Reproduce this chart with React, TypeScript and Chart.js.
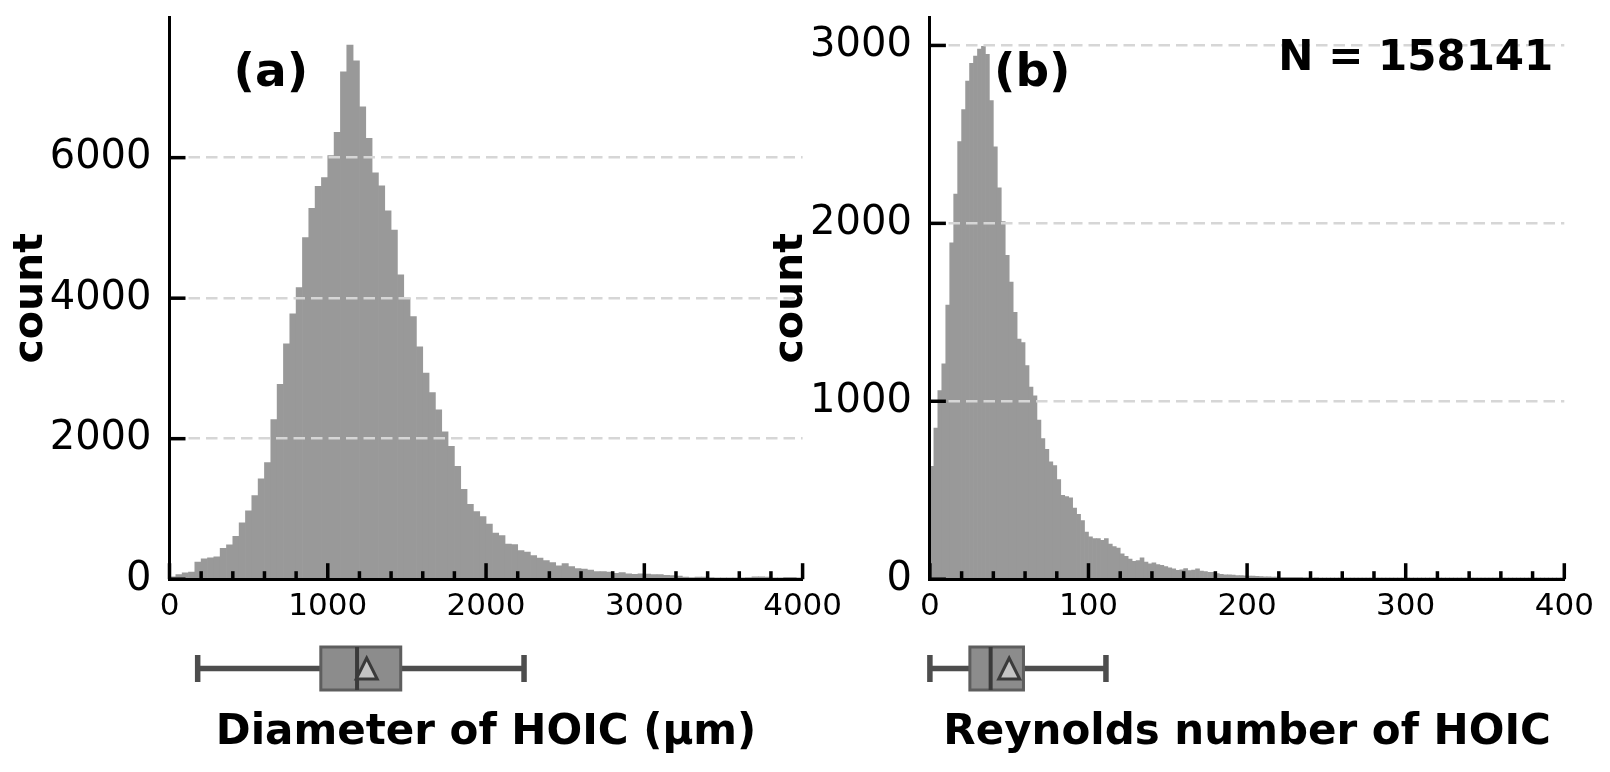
import React, { useEffect, useRef } from 'react';
import { Chart, registerables } from 'chart.js';

Chart.register(...registerables);

const FONT = '"DejaVu Sans", "Liberation Sans", sans-serif';

// ---------- Panel (a): diameter histogram ----------
const A_BIN_START = 0;
const A_BIN_WIDTH = 40;
const A_COUNTS = [
  35, 64, 90, 100, 245, 290, 305, 320, 440, 490,
  610, 803, 973, 1190, 1427, 1660, 2272, 2775, 3350, 3778,
  4150, 4863, 5280, 5593, 5716, 6030, 6360, 7222, 7604, 7379,
  6722, 6275, 5784, 5598, 5245, 4971, 4333, 4009, 3739, 3308,
  2934, 2655, 2410, 2097, 1890, 1606, 1280, 1066, 962, 890,
  786, 658, 620, 501, 491, 406, 387, 335, 302, 264,
  235, 192, 221, 178, 150, 145, 131, 107, 107, 102,
  83, 93, 78, 69, 78, 74, 67, 67, 55, 50,
  45, 31, 24, 31, 31, 22, 20, 20, 18, 20,
  18, 22, 35, 35, 30, 20, 18, 25, 25, 15,
];
const A_X_TICKS = [0, 1000, 2000, 3000, 4000];
const A_X_MINOR_STEP = 200;
const A_Y_TICKS = [0, 2000, 4000, 6000];
const A_Y_MAX = 7995;
const A_BOX = [178, 956, 1185, 1461, 2240]; // whisker low, Q1, median, Q3, whisker high
const A_MEAN = 1246;
const A_X_TITLE = 'Diameter of HOIC (µm)';
const A_PANEL = '(a)';

// ---------- Panel (b): Reynolds number histogram ----------
const B_BIN_START = 0;
const B_BIN_WIDTH = 2.5;
const B_COUNTS = [
  634, 850, 1060, 1210, 1540, 1890, 2165, 2460, 2640, 2800,
  2900, 2940, 2980, 2995, 2950, 2690, 2430, 2200, 2010, 1820,
  1670, 1500, 1350, 1330, 1200, 1080, 1030, 895, 790, 730,
  660, 638, 560, 472, 465, 458, 400, 365, 330, 265,
  238, 228, 228, 218, 228, 197, 184, 175, 142, 129,
  113, 101, 105, 120, 96, 86, 92, 82, 78, 71,
  64, 58, 50, 52, 60, 49, 51, 58, 45, 43,
  39, 38, 31, 27, 25, 24, 23, 21, 20, 19,
  17, 17, 16, 15, 13, 13, 12, 12, 11, 11,
  10, 11, 10, 10, 9, 9, 8, 9, 7, 7,
  6, 7, 7, 6, 6, 7, 5, 5, 6, 4,
  5, 5, 4, 6, 5, 4, 5, 5, 4, 5,
  4, 5, 4, 4, 5, 4, 3, 3, 4, 3,
  3, 2, 3, 4, 3, 2, 3, 3, 2, 3,
  2, 3, 2, 2, 3, 2, 2, 3, 2, 2,
  2, 2, 3, 2, 1, 2, 2, 2, 1, 2,
];
const B_X_TICKS = [0, 100, 200, 300, 400];
const B_X_MINOR_STEP = 20;
const B_Y_TICKS = [0, 1000, 2000, 3000];
const B_Y_MAX = 3157;
const B_BOX = [0, 25.2, 38.3, 59.0, 111]; // whisker low, Q1, median, Q3, whisker high
const B_MEAN = 50.0;
const B_X_TITLE = 'Reynolds number of HOIC';
const B_PANEL = '(b)';
const N_TEXT = 'N = 158141';

const Y_TITLE = 'count';

// ---------- layout ----------
const PAGE_W = 1610;
const PAGE_H = 772;
const CANVAS_W = 850;
const TOP_PAD = 17.5;
const X_AXIS_H = 192.8;

type PanelCfg = {
  left: number;
  yAxisW: number;
  padRight: number;
  binStart: number;
  binWidth: number;
  counts: number[];
  xTicks: number[];
  minorStep: number;
  yTicks: number[];
  yMax: number;
  box: number[];
  mean: number;
  xTitle: string;
  panel: string;
  nText?: string;
};

const PANELS: PanelCfg[] = [
  {
    left: 0, yAxisW: 169.5, padRight: CANVAS_W - 802.6,
    binStart: A_BIN_START, binWidth: A_BIN_WIDTH, counts: A_COUNTS,
    xTicks: A_X_TICKS, minorStep: A_X_MINOR_STEP, yTicks: A_Y_TICKS, yMax: A_Y_MAX,
    box: A_BOX, mean: A_MEAN, xTitle: A_X_TITLE, panel: A_PANEL,
  },
  {
    left: 760, yAxisW: 169.9, padRight: PAGE_W - 1564.3,
    binStart: B_BIN_START, binWidth: B_BIN_WIDTH, counts: B_COUNTS,
    xTicks: B_X_TICKS, minorStep: B_X_MINOR_STEP, yTicks: B_Y_TICKS, yMax: B_Y_MAX,
    box: B_BOX, mean: B_MEAN, xTitle: B_X_TITLE, panel: B_PANEL, nText: N_TEXT,
  },
];

function decorPlugin(cfg: PanelCfg) {
  return {
    id: 'decor',
    afterDraw(chart: any) {
      const { ctx, chartArea: ca } = chart;
      const xs = chart.scales.x;
      const ys = chart.scales.y;
      ctx.save();

      // inward tick marks
      ctx.strokeStyle = '#000';
      ctx.lineWidth = 3.5;
      ctx.lineCap = 'butt';
      const majorStep = cfg.xTicks[1] - cfg.xTicks[0];
      const nMinor = Math.round((xs.max - xs.min) / cfg.minorStep);
      for (let k = 0; k <= nMinor; k++) {
        const v = xs.min + k * cfg.minorStep;
        const r = v / majorStep;
        const major = Math.abs(r - Math.round(r)) < 1e-6;
        const px = xs.getPixelForValue(v);
        ctx.beginPath();
        ctx.moveTo(px, ca.bottom);
        ctx.lineTo(px, ca.bottom - (major ? 16 : 8));
        ctx.stroke();
      }
      for (const v of cfg.yTicks) {
        const py = ys.getPixelForValue(v);
        ctx.beginPath();
        ctx.moveTo(ca.left, py);
        ctx.lineTo(ca.left + 16, py);
        ctx.stroke();
      }

      // box plot below the axis
      const [wLo, q1, med, q3, wHi] = cfg.box;
      const cy = ca.bottom + 89.3;
      const pLo = xs.getPixelForValue(wLo);
      const pQ1 = xs.getPixelForValue(q1);
      const pMed = xs.getPixelForValue(med);
      const pQ3 = xs.getPixelForValue(q3);
      const pHi = xs.getPixelForValue(wHi);
      const pMean = xs.getPixelForValue(cfg.mean);

      ctx.strokeStyle = '#4d4d4d';
      ctx.lineWidth = 5.5;
      ctx.beginPath();
      ctx.moveTo(pLo, cy); ctx.lineTo(pQ1, cy);
      ctx.moveTo(pQ3, cy); ctx.lineTo(pHi, cy);
      ctx.moveTo(pLo, cy - 13.5); ctx.lineTo(pLo, cy + 13.5);
      ctx.moveTo(pHi, cy - 13.5); ctx.lineTo(pHi, cy + 13.5);
      ctx.stroke();

      const bh = 21.5;
      ctx.fillStyle = '#8c8c8c';
      ctx.fillRect(pQ1, cy - bh, pQ3 - pQ1, 2 * bh);
      ctx.strokeStyle = '#5e5e5e';
      ctx.lineWidth = 3;
      ctx.strokeRect(pQ1, cy - bh, pQ3 - pQ1, 2 * bh);

      ctx.strokeStyle = '#3a3a3a';
      ctx.lineWidth = 4;
      ctx.beginPath();
      ctx.moveTo(pMed, cy - bh);
      ctx.lineTo(pMed, cy + bh);
      ctx.stroke();

      const r = 10.5;
      ctx.beginPath();
      ctx.moveTo(pMean, cy - r);
      ctx.lineTo(pMean - r, cy + r);
      ctx.lineTo(pMean + r, cy + r);
      ctx.closePath();
      ctx.fillStyle = '#c4c4c4';
      ctx.fill();
      ctx.strokeStyle = '#3a3a3a';
      ctx.lineWidth = 3;
      ctx.lineJoin = 'miter';
      ctx.stroke();

      // panel label
      ctx.fillStyle = '#000';
      ctx.textBaseline = 'alphabetic';
      ctx.textAlign = 'left';
      ctx.font = `bold 47px ${FONT}`;
      ctx.fillText(cfg.panel, ca.left + 64, ca.top + 68);

      if (cfg.nText) {
        ctx.textAlign = 'right';
        ctx.font = `bold 42px ${FONT}`;
        ctx.fillText(cfg.nText, ca.right - 11, ca.top + 52);
      }
      ctx.restore();
    },
  };
}

const plainNumber = (v: any) => String(v);

function buildChart(canvas: HTMLCanvasElement, cfg: PanelCfg) {
  const points = cfg.counts.map((c, i) => ({
    x: cfg.binStart + cfg.binWidth * (i + 0.5),
    y: c,
  }));
  return new Chart(canvas, {
    type: 'bar',
    data: {
      datasets: [
        {
          data: points as any,
          backgroundColor: '#999999',
          borderWidth: 0,
          barPercentage: 1,
          categoryPercentage: 1,
        },
      ],
    },
    options: {
      animation: false,
      responsive: false,
      events: [],
      layout: { padding: { left: 0, top: TOP_PAD, right: cfg.padRight, bottom: 0 } },
      plugins: { legend: { display: false }, tooltip: { enabled: false } },
      scales: {
        x: {
          type: 'linear',
          min: cfg.xTicks[0],
          max: cfg.xTicks[cfg.xTicks.length - 1],
          offset: false,
          afterBuildTicks: (s: any) => {
            s.ticks = cfg.xTicks.map((v) => ({ value: v }));
          },
          afterFit: (s: any) => {
            s.height = X_AXIS_H;
            s.paddingLeft = 0;
            s.paddingRight = 0;
          },
          grid: { display: false, drawTicks: false },
          border: { display: true, color: '#000', width: 3, z: 1 },
          ticks: {
            color: '#000',
            font: { family: FONT, size: 31 },
            padding: 9,
            maxRotation: 0,
            autoSkip: false,
            callback: plainNumber,
          },
          title: {
            display: true,
            text: cfg.xTitle,
            color: '#000',
            font: { family: FONT, size: 42, weight: 'bold' },
            padding: { top: 0, bottom: 14 },
          },
        },
        y: {
          type: 'linear',
          min: 0,
          max: cfg.yMax,
          afterBuildTicks: (s: any) => {
            s.ticks = cfg.yTicks.map((v) => ({ value: v }));
          },
          afterFit: (s: any) => {
            s.width = cfg.yAxisW;
            s.paddingTop = 0;
            s.paddingBottom = 0;
          },
          grid: {
            drawTicks: false,
            lineWidth: 2.5,
            z: 1,
            color: (c: any) => (c.tick && c.tick.value === 0 ? 'rgba(0,0,0,0)' : '#d6d6d6'),
          },
          border: { display: true, color: '#000', width: 3, dash: [11.5, 6], z: 1 },
          ticks: {
            color: '#000',
            font: { family: FONT, size: 40 },
            padding: 18,
            callback: plainNumber,
          },
          title: {
            display: true,
            text: Y_TITLE,
            color: '#000',
            font: { family: FONT, size: 41, weight: 'bold' },
            padding: { top: 7, bottom: 0 },
          },
        },
      },
    } as any,
    plugins: [decorPlugin(cfg)],
  });
}

function Panel({ cfg }: { cfg: PanelCfg }) {
  const ref = useRef<HTMLCanvasElement | null>(null);
  useEffect(() => {
    if (!ref.current) return;
    const chart = buildChart(ref.current, cfg);
    return () => chart.destroy();
  }, [cfg]);
  return (
    <canvas
      ref={ref}
      width={CANVAS_W}
      height={PAGE_H}
      style={{ position: 'absolute', left: cfg.left, top: 0, width: CANVAS_W, height: PAGE_H, display: 'block' }}
    />
  );
}

export default function App() {
  return (
    <div
      style={{
        position: 'absolute',
        left: 0,
        top: 0,
        width: PAGE_W,
        height: PAGE_H,
        background: '#ffffff',
        overflow: 'hidden',
      }}
    >
      {PANELS.map((p, i) => (
        <Panel key={i} cfg={p} />
      ))}
    </div>
  );
}
